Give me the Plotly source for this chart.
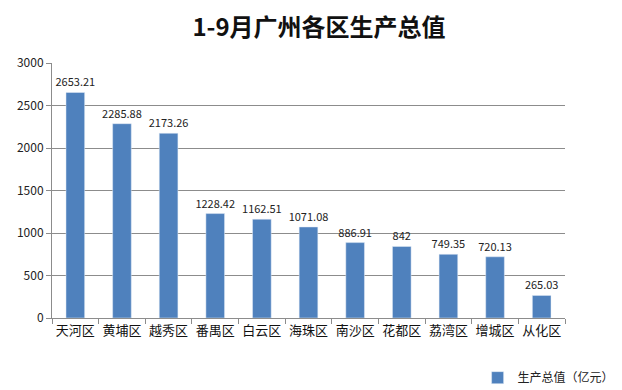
import plotly.graph_objects as go

districts = ["天河区", "黄埔区", "越秀区", "番禺区", "白云区", "海珠区", "南沙区", "花都区", "荔湾区", "增城区", "从化区"]
gdp = [2653.21, 2285.88, 2173.26, 1228.42, 1162.51, 1071.08, 886.91, 842, 749.35, 720.13, 265.03]
series_name = "生产总值（亿元）"
title_text = "1-9月广州各区生产总值"
y_ticks = [0, 500, 1000, 1500, 2000, 2500, 3000]

font_family = "Noto Sans CJK SC, Noto Sans, sans-serif"

fig = go.Figure()
fig.add_trace(go.Bar(
    x=districts,
    y=gdp,
    name=series_name,
    marker=dict(color="#4F81BD"),
    text=[f"{v:g}" for v in gdp],
    textposition="outside",
    constraintext="none",
    textfont=dict(size=11, color="#222222", family=font_family),
    cliponaxis=False,
    showlegend=True,
))

fig.update_layout(
    width=622,
    height=390,
    paper_bgcolor="white",
    plot_bgcolor="white",
    margin=dict(l=44, r=65, t=55, b=80, autoexpand=False),
    title=dict(
        text=title_text,
        x=0.5,
        xanchor="center",
        xref="container",
        yref="container",
        y=1 - 20 / 390,
        yanchor="middle",
        font=dict(size=24, family=font_family, color="#111111", weight="bold"),
    ),
    bargap=0.6,
    font=dict(family=font_family, color="#222222"),
    legend=dict(
        xref="container",
        yref="container",
        x=0.755,
        y=0.015,
        xanchor="left",
        yanchor="bottom",
        font=dict(size=12, family=font_family, color="#222222"),
        itemwidth=30,
        bgcolor="rgba(0,0,0,0)",
    ),
)

fig.update_yaxes(
    range=[0, 3000],
    tickvals=y_ticks,
    showgrid=True,
    gridcolor="#8c8c8c",
    gridwidth=1,
    showline=True,
    linecolor="#8c8c8c",
    ticks="outside",
    ticklen=5,
    tickcolor="#8c8c8c",
    tickfont=dict(size=12, color="#222222"),
    zeroline=False,
)
fig.update_xaxes(
    showline=True,
    linecolor="#8c8c8c",
    ticks="outside",
    tickson="boundaries",
    ticklen=5,
    tickcolor="#8c8c8c",
    tickangle=0,
    tickfont=dict(size=13, color="#111111"),
)

fig.write_html("out.html")
